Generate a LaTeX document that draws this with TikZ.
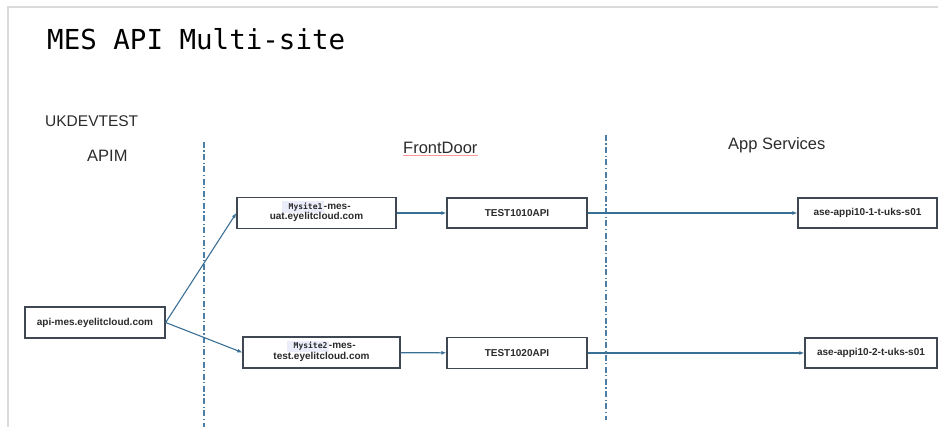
\documentclass[tikz,border=0pt]{standalone}
\usepackage{fontspec}
\setmainfont{Liberation Sans}
\newfontfamily\titlemono{DejaVu Sans Mono}
\usepackage{tikz}
\usetikzlibrary{arrows.meta}

\definecolor{arrowblue}{HTML}{3A6F95}
\definecolor{dashblue}{HTML}{4D7FA6}
\definecolor{boxgray}{HTML}{3F4852}
\definecolor{framegray}{HTML}{DADADA}
\definecolor{sitehl}{HTML}{ECEDFA}
\definecolor{labeltext}{HTML}{2B2B2B}

\newcommand{\sitetag}[1]{\smash{\setlength\fboxsep{1.5pt}\colorbox{sitehl}{\titlemono\fontsize{8}{8}\selectfont\ #1}}}

\begin{document}
\begin{tikzpicture}[x=1pt, y=-1pt,
    box/.style={draw=boxgray, line width=1.3pt, fill=white, inner sep=0pt, minimum height=31pt,
                align=center, text=labeltext, font=\fontsize{10}{10.5}\selectfont\bfseries},
    lbl/.style={inner sep=0pt, anchor=base west, text=labeltext, font=\fontsize{16.5}{18}\selectfont},
    link/.style={draw=arrowblue, line width=1.1pt, -{Latex[length=5pt,width=4pt]}},
    divider/.style={draw=dashblue, line width=1.3pt, dash pattern=on 6pt off 2.5pt on 1.2pt off 2.5pt}]
    \useasboundingbox (0,0) rectangle (938,427);
    \draw [framegray, line width=1.3pt] (8,427) -- (8,7) -- (938,7);

    \node [inner sep=0pt, anchor=base west, text=black, font=\titlemono\fontsize{27.5}{30}\selectfont] (title) at (47,50) {MES API Multi-site};
    \node [lbl, font=\fontsize{15.5}{18}\selectfont] (env) at (45,127) {UKDEVTEST};
    \node [lbl] (apim) at (87,162) {APIM};
    \node [lbl] (frontdoor) at (403,154) {FrontDoor};
    \node [lbl] (appsvc) at (728,150) {App Services};
    \draw [red!40, line width=0.6pt] ([yshift=-1.5pt]frontdoor.base west) -- ([yshift=-1.5pt]frontdoor.base east);

    \foreach \x / \t / \b in {204/142/427, 606/135/420}
    \draw [divider] (\x,\t) -- (\x,\b);

    \node [box, minimum width=140pt] (apimes) at (95,322.5) {api-mes.eyelitcloud.com};
    \node [box, minimum width=159pt] (site1) at (316.5,213) {\sitetag{Mysite1}-mes-\\uat.eyelitcloud.com};
    \node [box, minimum width=157pt] (site2) at (321.5,352.5) {\sitetag{Mysite2}-mes-\\test.eyelitcloud.com};
    \node [box, minimum width=140pt, minimum height=30pt] (test1) at (517,213) {TEST1010API};
    \node [box, minimum width=140pt] (test2) at (517,353) {TEST1020API};
    \node [box, minimum width=139pt, minimum height=30pt] (ase1) at (867.5,213) {ase-appi10-1-t-uks-s01};
    \node [box, minimum width=132pt, minimum height=30pt] (ase2) at (871,353) {ase-appi10-2-t-uks-s01};

    \draw [link] (apimes.east) -- (site1.west);
    \draw [link] (apimes.east) -- (site2.west);
    \draw [link] (site1) -- (test1);
    \draw [link] (site2) -- (test2);
    \draw [link] (test1) -- (ase1);
    \draw [link] (test2) -- (ase2);
\end{tikzpicture}
\end{document}
